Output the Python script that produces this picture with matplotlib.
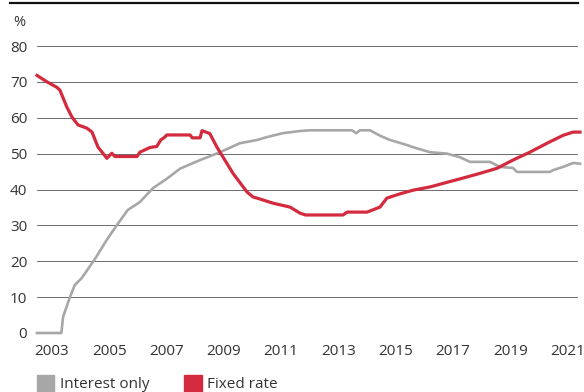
import matplotlib.pyplot as plt
from matplotlib.patches import Rectangle
from matplotlib.lines import Line2D

# share of new mortgages, %
io_years = [2002.48, 2003.33, 2003.39, 2003.63, 2003.80, 2004.04, 2004.50, 2004.91,
            2005.26, 2005.65, 2006.07, 2006.53, 2007.01, 2007.47, 2008.17, 2008.87,
            2009.56, 2010.16, 2010.50, 2011.06, 2011.66, 2012.00, 2013.47, 2013.62,
            2013.75, 2013.90, 2014.10, 2014.45, 2014.80, 2015.39, 2015.60, 2016.19,
            2016.79, 2017.24, 2017.59, 2018.29, 2018.64, 2019.09, 2019.23, 2020.38,
            2020.49, 2020.84, 2021.19, 2021.43]
io_values = [0, 0, 4.5, 10, 13.4, 15.3, 20.6, 25.9,
             30, 34.3, 36.5, 40.4, 43, 45.8, 48.2, 50.4,
             52.9, 53.8, 54.6, 55.7, 56.3, 56.5, 56.5, 55.7,
             56.5, 56.5, 56.5, 55, 53.8, 52.4, 51.8, 50.4,
             50, 49, 47.7, 47.7, 46.3, 46, 44.9, 44.9,
             45.4, 46.3, 47.4, 47.2]

fixed_years = [2002.48, 2002.83, 2003.17, 2003.28, 2003.52, 2003.70, 2003.91, 2004.22,
               2004.40, 2004.61, 2004.78, 2004.92, 2005.09, 2005.20, 2005.97, 2006.07,
               2006.42, 2006.66, 2006.80, 2006.94, 2007.01, 2007.82, 2007.90, 2008.17,
               2008.24, 2008.51, 2008.76, 2009.32, 2009.81, 2010.02, 2010.16, 2010.71,
               2011.31, 2011.66, 2011.85, 2013.16, 2013.30, 2014.00, 2014.45, 2014.69,
               2015.15, 2015.60, 2016.19, 2016.79, 2017.35, 2017.94, 2018.53, 2019.09,
               2019.68, 2020.28, 2020.84, 2021.19, 2021.43]
fixed_values = [71.8, 70, 68.5, 67.7, 63, 60.2, 58, 57.1,
                56, 51.8, 50.1, 48.7, 50.1, 49.2, 49.2, 50.4,
                51.7, 52, 53.8, 54.6, 55.2, 55.2, 54.4, 54.4,
                56.4, 55.6, 51.8, 44.5, 39.3, 37.9, 37.6, 36.2,
                35.1, 33.4, 32.9, 32.9, 33.7, 33.7, 35.1, 37.6,
                38.8, 39.8, 40.7, 42, 43.2, 44.5, 45.9, 48.2,
                50.4, 52.9, 55.1, 56, 56]

year_ticks = [2003, 2005, 2007, 2009, 2011, 2013, 2015, 2017, 2019, 2021]
y_ticks = [0, 10, 20, 30, 40, 50, 60, 70, 80]

gray = '#a7a7a7'
red = '#d32a3e'
txt = '#333333'
plt.rcParams['font.family'] = ['Open Sans', 'DejaVu Sans']

fig = plt.figure(figsize=(5.84, 3.92), dpi=100)
ax = fig.add_axes([37/584, 1 - 333/392, (578 - 37)/584, (333 - 46)/392])

ax.plot(io_years, io_values, color=gray, lw=1.9, clip_on=False, zorder=3)
ax.plot(fixed_years, fixed_values, color=red, lw=2.3, clip_on=False, zorder=4)

ax.set_xlim(2002.48, 2021.36)
ax.set_ylim(0, 80)
ax.set_yticks(y_ticks)
ax.set_xticks(year_ticks)
ax.yaxis.grid(True, color='#555555', lw=0.6)
ax.set_axisbelow(True)
for s in ax.spines.values():
    s.set_visible(False)
ax.tick_params(axis='both', length=0, labelsize=11, labelcolor=txt)
ax.tick_params(axis='y', pad=7)
ax.tick_params(axis='x', pad=8)

fig.text(13/584, 1 - 22/392, '%', fontsize=10.5, color=txt, va='center', ha='left')
fig.add_artist(Line2D([10/584, 578/584], [1 - 3/392, 1 - 3/392], color='#111111', lw=1.6))

# legend
fig.add_artist(Rectangle((37/584, 0), 17/584, 17/392, color=gray, transform=fig.transFigure))
fig.text(60/584, 1 - 384/392, 'Interest only', fontsize=11, color=txt, va='center')
fig.add_artist(Rectangle((184/584, 0), 18/584, 17/392, color=red, transform=fig.transFigure))
fig.text(207/584, 1 - 384/392, 'Fixed rate', fontsize=11, color=txt, va='center')

fig.savefig('out.png', dpi=100)
